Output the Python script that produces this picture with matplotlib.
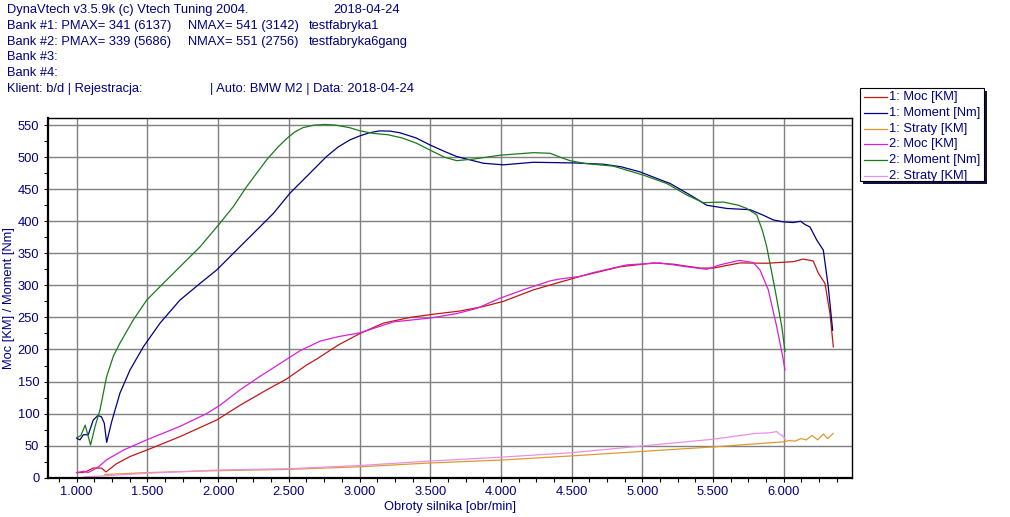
import matplotlib
matplotlib.use('Agg')
import matplotlib.pyplot as plt
from matplotlib.lines import Line2D
from matplotlib.patches import Rectangle
from matplotlib.ticker import MultipleLocator, FuncFormatter

plt.rcParams['font.family'] = ['Liberation Sans', 'DejaVu Sans']

W, H = 1010, 517
NAVY = '#000080'

# --- data ---
moc1_rpm = [1000, 1040, 1071, 1117, 1176, 1207, 1283, 1377, 1495, 1730, 1990, 2155, 2344, 2485,
            2627, 2697, 2850, 3004, 3168, 3357, 3522, 3711, 3876, 4017, 4230, 4418, 4560, 4654,
            4843, 5078, 5220, 5408, 5502, 5691, 5880, 6068, 6137, 6209, 6245, 6292, 6327, 6351]
moc1_val = [8, 8, 10, 15, 15, 9, 22, 33, 43, 64, 90, 113, 137, 154,
            176, 185, 207, 225, 241, 250, 255, 260, 267, 275, 293, 305, 314, 319,
            329, 335, 333, 327, 327, 335, 334.5, 337, 341, 338, 319, 303, 256, 204]

mom1_rpm = [1000, 1023, 1047, 1082, 1117, 1150, 1175, 1195, 1212, 1247, 1306, 1377, 1471, 1589,
            1730, 1872, 1990, 2108, 2249, 2390, 2509, 2627, 2767, 2850, 2933, 3000, 3070, 3142,
            3220, 3286, 3400, 3499, 3600, 3687, 3876, 4017, 4230, 4513, 4724, 4850, 4984, 5100,
            5196, 5361, 5455, 5597, 5762, 5850, 5927, 6000, 6068, 6120, 6150, 6186, 6233, 6280,
            6315, 6346]
mom1_val = [61.5, 59, 67, 67, 90, 97, 95, 85, 55, 87, 132, 168, 204, 241,
            277, 303, 324, 350, 381, 412, 444, 470, 501, 516, 527, 533, 538, 541,
            540.5, 538, 530, 519, 509, 501, 490.5, 488, 492, 491, 489, 485, 477, 467,
            459, 438, 425, 420, 418, 410, 402, 399, 398, 400, 395, 391, 371, 355,
            298, 230]

str1_rpm = [1200, 1500, 2000, 2500, 3000, 3500, 4000, 4500, 5000, 5500, 6000, 6040, 6080,
            6120, 6160, 6200, 6240, 6280, 6310, 6350]
str1_val = [5, 8, 11, 13, 17, 23, 27.5, 34, 41, 48, 56, 58, 57,
            61, 59, 66, 59, 68, 61, 69]

moc2_rpm = [1000, 1050, 1080, 1117, 1160, 1212, 1330, 1495, 1730, 1919, 2013, 2155, 2296, 2438,
            2579, 2721, 2850, 3004, 3239, 3499, 3687, 3829, 3994, 4183, 4348, 4418, 4560, 4654,
            4890, 5125, 5314, 5455, 5549, 5686, 5785, 5832, 5891, 5950, 5993, 6009]
moc2_val = [8, 10, 8, 12, 18, 28, 43, 59, 80, 100, 113, 137, 158, 178,
            198, 213, 220, 226, 243, 249, 256, 264, 280, 295, 307, 310, 314, 320,
            332, 335, 329, 325, 332, 339, 335.5, 324, 293, 236, 189, 168]

mom2_rpm = [1000, 1030, 1060, 1098, 1130, 1165, 1212, 1260, 1306, 1400, 1495, 1589, 1730, 1872,
            2013, 2108, 2202, 2344, 2420, 2485, 2540, 2600, 2680, 2756, 2830, 2930, 3004, 3100,
            3200, 3300, 3400, 3499, 3600, 3687, 3805, 3994, 4230, 4348, 4418, 4489, 4600, 4795,
            5007, 5172, 5314, 5431, 5573, 5680, 5738, 5809, 5850, 5880, 5939, 5986, 6009]
mom2_val = [62, 66, 82, 51, 80, 106, 158, 190, 210, 246, 277, 298, 329, 360,
            397, 423, 454, 496, 515, 529, 539, 546, 550, 551, 550, 546, 541, 537,
            535, 530, 522, 511, 500, 494.5, 497, 503, 507, 506, 500, 494.5, 490, 486,
            472, 459, 441, 429, 430, 425, 420, 410, 385, 360, 293, 236, 197]

str2_rpm = [1050, 1500, 2000, 2500, 3000, 3500, 4000, 4500, 5000, 5500, 5800, 5900, 5950, 5970,
            5990, 6010]
str2_val = [1, 7, 12, 14, 19, 26, 32, 39, 49.5, 60, 69, 70, 72, 68, 66, 60]

series = [
    ('1: Moc [KM]', moc1_rpm, moc1_val, '#C01818'),
    ('1: Moment [Nm]', mom1_rpm, mom1_val, '#000080'),
    ('1: Straty [KM]', str1_rpm, str1_val, '#DE9A30'),
    ('2: Moc [KM]', moc2_rpm, moc2_val, '#D820D8'),
    ('2: Moment [Nm]', mom2_rpm, mom2_val, '#1A7A1A'),
    ('2: Straty [KM]', str2_rpm, str2_val, '#E890E8'),
]

header = [
    (7, 10, 'DynaVtech v3.5.9k (c) Vtech Tuning 2004.'),
    (333, 10, '2018-04-24'),
    (7, 25.7, 'Bank #1: PMAX= 341 (6137)'),
    (188, 25.7, 'NMAX= 541 (3142)'),
    (309, 25.7, 'testfabryka1'),
    (7, 41.5, 'Bank #2: PMAX= 339 (5686)'),
    (188, 41.5, 'NMAX= 551 (2756)'),
    (309, 41.5, 'testfabryka6gang'),
    (7, 57.3, 'Bank #3:'),
    (7, 73, 'Bank #4:'),
    (7, 88.7, 'Klient: b/d | Rejestracja:'),
    (210, 88.7, '| Auto: BMW M2 | Data: 2018-04-24'),
]

FS = 9.3


def fx(px):
    return px / W


def fy(py):
    return 1 - py / H


fig = plt.figure(figsize=(W / 100, H / 100), dpi=100)
fig.patch.set_facecolor('white')
ax = fig.add_axes([fx(47.7), fy(477.7), fx(852.3) - fx(47.7), fy(118.3) - fy(477.7)])

for label, xs, ys, col in series:
    ax.plot(xs, ys, color=col, linewidth=0.9, label=label)

ax.set_xlim(795, 6485)
ax.set_ylim(0, 560.6)
ax.xaxis.set_minor_locator(MultipleLocator(125))
ax.yaxis.set_major_locator(MultipleLocator(50))
ax.yaxis.set_minor_locator(MultipleLocator(25))
ax.set_xticks([1000, 1500, 2000, 2500, 3000, 3500, 4000, 4500, 5000, 5500, 6000])
ax.xaxis.set_major_formatter(FuncFormatter(lambda v, p: f'{v:,.0f}'.replace(',', '.')))

ax.grid(True, which='major', color='#808080', linewidth=1.0)
ax.set_axisbelow(True)
ax.tick_params(which='both', direction='out', length=3, width=0.8, color='black',
               labelsize=FS, labelcolor=NAVY, pad=3)
for s in ['left', 'bottom']:
    ax.spines[s].set_linewidth(1.6)
for s in ['top', 'right']:
    ax.spines[s].set_linewidth(1.0)

ax.set_xlabel('Obroty silnika [obr/min]', fontsize=FS, color=NAVY, labelpad=2)
ax.set_ylabel('Moc [KM] / Moment [Nm]', fontsize=FS, color=NAVY, labelpad=2)

for x, y, t in header:
    fig.text(fx(x), fy(y), t, fontsize=FS, color=NAVY, ha='left', va='center')

# legend box with shadow, drawn by hand
lx0, ly0, lx1, ly1 = 860, 88, 984, 181
fig.add_artist(Rectangle((fx(lx0 + 3), fy(ly1 + 3)), fx(lx1 - lx0), fy(ly0) - fy(ly1),
                         transform=fig.transFigure, facecolor='#101040', edgecolor='none'))
fig.add_artist(Rectangle((fx(lx0), fy(ly1)), fx(lx1 - lx0), fy(ly0) - fy(ly1),
                         transform=fig.transFigure, facecolor='white', edgecolor='black',
                         linewidth=0.8))
for i, (label, xs, ys, col) in enumerate(series):
    yy = 97 + i * 15.8
    fig.add_artist(Line2D([fx(864), fx(887)], [fy(yy), fy(yy)], transform=fig.transFigure,
                          color=col, linewidth=0.9))
    fig.text(fx(889), fy(yy), label, fontsize=FS, color=NAVY, ha='left', va='center')

fig.savefig('out.png', dpi=100, facecolor='white')
